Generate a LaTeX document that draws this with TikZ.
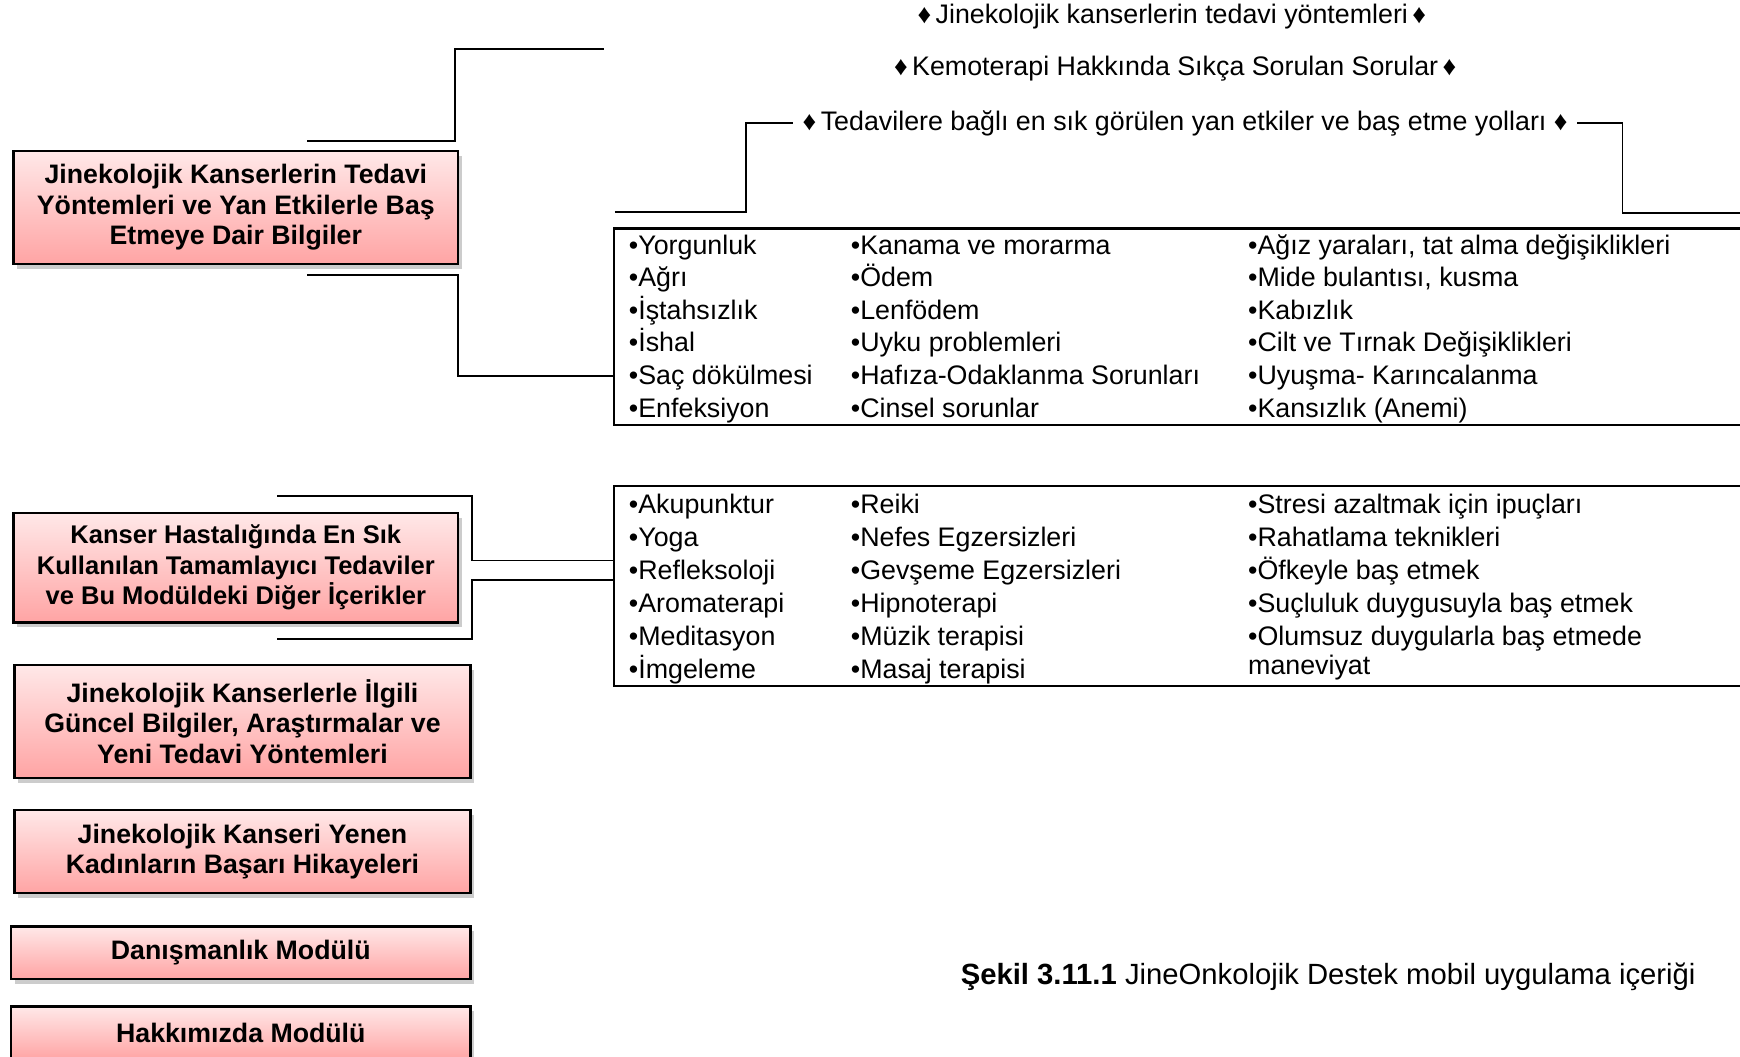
\documentclass[tikz,border=0pt]{standalone}
\usepackage{fontspec}
\setmainfont{Liberation Sans}
\usepackage{xcolor}
\usetikzlibrary{positioning, shadows}
\definecolor{pinktop}{RGB}{255,232,232}
\definecolor{pinkbot}{RGB}{255,164,164}

\begin{document}
\begin{tikzpicture}[x=0.02cm, y=-0.02cm, line width=0.9pt]
    % Block styles
    \tikzstyle{module} = [rectangle, draw=black, line width=1.2pt, top color=pinktop, bottom color=pinkbot, align=center, font=\fontsize{13.7}{15.6}\selectfont\bfseries, drop shadow={shadow xshift=2pt, shadow yshift=-2.5pt, opacity=0.4}, inner sep=0pt]
    \tikzstyle{listbox} = [rectangle, draw=black, line width=1.2pt, anchor=north west, minimum width=21cm, inner sep=0pt]
    \tikzstyle{item} = [anchor=base west, inner sep=0pt, font=\fontsize{13.75}{16.5}\selectfont]
    \tikzstyle{heading} = [inner sep=4.5pt, font=\fontsize{13.75}{16.5}\selectfont]
    \clip (0,0) rectangle (1568,952);

    % Modules on the left
    \node[module, minimum width=8.02cm, minimum height=2.04cm] (treat) at (212.5,187) {Jinekolojik Kanserlerin Tedavi\\Yöntemleri ve Yan Etkilerle Baş\\Etmeye Dair Bilgiler};
    \node[module, minimum width=8.02cm, minimum height=1.98cm, font=\fontsize{13.1}{15.6}\selectfont\bfseries] (compl) at (212.5,511.5) {Kanser Hastalığında En Sık\\Kullanılan Tamamlayıcı Tedaviler\\ve Bu Modüldeki Diğer İçerikler};
    \node[module, minimum width=8.22cm, minimum height=2.04cm] (news) at (218.5,650) {Jinekolojik Kanserlerle İlgili\\Güncel Bilgiler, Araştırmalar ve\\Yeni Tedavi Yöntemleri};
    \node[module, minimum width=8.22cm, minimum height=1.5cm] (stories) at (218.5,767.5) {Jinekolojik Kanseri Yenen\\Kadınların Başarı Hikayeleri};
    \node[module, minimum width=8.28cm, minimum height=0.94cm] (advice) at (217,858.5) {Danışmanlık Modülü};
    \node[module, minimum width=8.28cm, minimum height=0.96cm] (about) at (217,931) {Hakkımızda Modülü};

    % Headings
    \node[heading] (methods) at (1056,15) {♦\,Jinekolojik kanserlerin tedavi yöntemleri\,♦};
    \node[heading] (faq) at (1059,62) {♦\,Kemoterapi Hakkında Sıkça Sorulan Sorular\,♦};
    \node[heading] (sidefx) at (1068,111) {♦\,Tedavilere bağlı en sık görülen yan etkiler ve baş etme yolları ♦};

    % Lists
    \node[listbox, minimum height=3.54cm] (effects) at (552,205) {};
    \node[listbox, minimum height=3.6cm] (therapy) at (552,437) {};
    \foreach \t [count=\i from 0] in {Yorgunluk, Ağrı, İştahsızlık, İshal, Saç dökülmesi, Enfeksiyon}
        \node[item] (fxa\i) at (566,229+29.4*\i) {•\t};
    \foreach \t [count=\i from 0] in {Kanama ve morarma, Ödem, Lenfödem, Uyku problemleri, Hafıza-Odaklanma Sorunları, Cinsel sorunlar}
        \node[item] (fxb\i) at (766,229+29.4*\i) {•\t};
    \foreach \t [count=\i from 0] in {{Ağız yaraları, tat alma değişiklikleri}, {Mide bulantısı, kusma}, Kabızlık, Cilt ve Tırnak Değişiklikleri, Uyuşma- Karıncalanma, Kansızlık (Anemi)}
        \node[item] (fxc\i) at (1124,229+29.4*\i) {•\t};
    \foreach \t [count=\i from 0] in {Akupunktur, Yoga, Refleksoloji, Aromaterapi, Meditasyon, İmgeleme}
        \node[item] (tha\i) at (566,463+29.6*\i) {•\t};
    \foreach \t [count=\i from 0] in {Reiki, Nefes Egzersizleri, Gevşeme Egzersizleri, Hipnoterapi, Müzik terapisi, Masaj terapisi}
        \node[item] (thb\i) at (766,463+29.6*\i) {•\t};
    \foreach \t [count=\i from 0] in {Stresi azaltmak için ipuçları, Rahatlama teknikleri, Öfkeyle baş etmek, Suçluluk duygusuyla baş etmek, Olumsuz duygularla baş etmede}
        \node[item] (thc\i) at (1124,463+29.6*\i) {•\t};
    \node[item] (thc5) at (1124,608) {maneviyat};

    % Caption
    \node[anchor=west, inner sep=0pt, font=\fontsize{15}{18}\selectfont] (caption) at (865,880) {\textbf{Şekil 3.11.1} JineOnkolojik Destek mobil uygulama içeriği};

    % Connections
    \coordinate (treathi) at (277,127);
    \coordinate (treatlo) at (277,248);
    \coordinate (topend) at (544,44);
    \coordinate (complhi) at (250,447);
    \coordinate (compllo) at (250,576);
    \coordinate (fxleft) at (554,191);
    \coordinate (fxright) at (1600,192);
    \draw (treathi) -| (410,86) |- (topend);
    \draw (treatlo) -| (413,300) |- (effects.west |- 0,339);
    \draw (complhi) -| (425,480) |- (therapy.west |- 0,505);
    \draw (compllo) -| (425,550) |- (therapy.west |- 0,523);
    \draw (fxleft) -| (672,150) |- (sidefx.west);
    \draw (sidefx.east) -| (1462,150) |- (fxright);
\end{tikzpicture}
\end{document}
